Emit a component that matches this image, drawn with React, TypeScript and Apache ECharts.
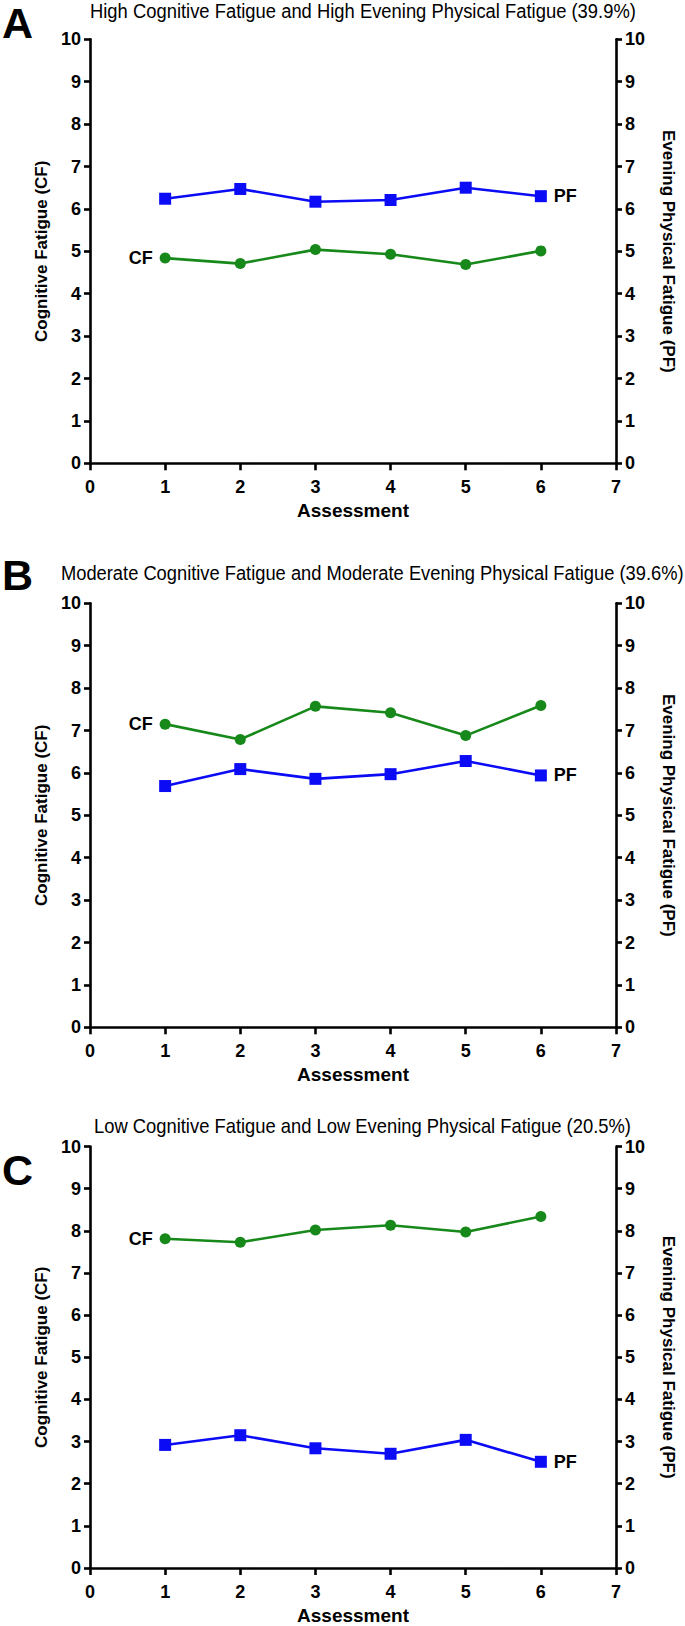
import React, { useEffect, useRef } from "react";
import * as echarts from "echarts";

const assessments = [1, 2, 3, 4, 5, 6];
const panelLetters = ["A", "B", "C"];
const panelTitles = [
  "High Cognitive Fatigue and High Evening Physical Fatigue (39.9%)",
  "Moderate Cognitive Fatigue and Moderate Evening Physical Fatigue (39.6%)",
  "Low Cognitive Fatigue and Low Evening Physical Fatigue (20.5%)",
];
const cfA = [4.84, 4.71, 5.04, 4.93, 4.69, 5.01];
const pfA = [6.24, 6.47, 6.17, 6.21, 6.5, 6.3];
const cfB = [7.15, 6.79, 7.57, 7.42, 6.88, 7.59];
const pfB = [5.69, 6.09, 5.86, 5.97, 6.28, 5.94];
const cfC = [7.81, 7.73, 8.02, 8.13, 7.97, 8.34];
const pfC = [2.92, 3.15, 2.84, 2.71, 3.04, 2.52];
const cfSeries = [cfA, cfB, cfC];
const pfSeries = [pfA, pfB, pfC];

const xAxisName = "Assessment";
const leftAxisName = "Cognitive Fatigue (CF)";
const rightAxisName = "Evening Physical Fatigue (PF)";

const gridTops = [39.3, 603.3, 1146.5];
const titleYs = [11, 573, 1126];
// title spans [left, right] in px
const titleSpans = [
  [90, 636],
  [61, 684],
  [94, 631],
];
const letterTops = [1, 553, 1148];
const GRID_H = 424;
const GRID_L = 90;
const GRID_R = 56;

const SANS = "'Liberation Sans', Arial, sans-serif";
const BLUE = "#0b0bf5";
const GREEN = "#17891a";

export default function App() {
  const ref = useRef<HTMLDivElement>(null);
  useEffect(() => {
    if (!ref.current) return;
    const chart = echarts.init(ref.current, undefined, { renderer: "svg" });
    const axisLineStyle = { color: "#000", width: 2.6 };
    const tickLabel = { color: "#000", fontFamily: SANS, fontWeight: "bold" as const, fontSize: 18 };

    const grids = gridTops.map((t) => ({ left: GRID_L, right: GRID_R, top: t, height: GRID_H }));
    const xAxes = gridTops.map((_, i) => ({
      type: "value" as const,
      gridIndex: i,
      min: 0,
      max: 7,
      interval: 1,
      name: xAxisName,
      nameLocation: "middle" as const,
      nameGap: 38,
      nameTextStyle: { color: "#000", fontFamily: SANS, fontWeight: "bold" as const, fontSize: 19 },
      axisLine: { show: true, onZero: false, lineStyle: axisLineStyle },
      axisTick: { show: true, length: 7, lineStyle: axisLineStyle },
      axisLabel: { ...tickLabel, margin: 15 },
      splitLine: { show: false },
    }));
    const yAxes: any[] = [];
    gridTops.forEach((_, i) => {
      yAxes.push({
        type: "value",
        gridIndex: i,
        position: "left",
        min: 0,
        max: 10,
        interval: 1,
        name: leftAxisName,
        nameLocation: "middle",
        nameRotate: 90,
        nameGap: 35,
        nameTextStyle: { color: "#000", fontFamily: SANS, fontWeight: "bold", fontSize: 17 },
        axisLine: { show: true, onZero: false, lineStyle: axisLineStyle },
        axisTick: { show: true, length: 6, lineStyle: axisLineStyle },
        axisLabel: { ...tickLabel, margin: 9 },
        splitLine: { show: false },
      });
      yAxes.push({
        type: "value",
        gridIndex: i,
        position: "right",
        min: 0,
        max: 10,
        interval: 1,
        name: rightAxisName,
        nameLocation: "middle",
        nameRotate: -90,
        nameGap: 44,
        nameTextStyle: { color: "#000", fontFamily: SANS, fontWeight: "bold", fontSize: 17 },
        axisLine: { show: true, onZero: false, lineStyle: axisLineStyle },
        axisTick: { show: true, length: 6, lineStyle: axisLineStyle },
        axisLabel: { ...tickLabel, margin: 9 },
        splitLine: { show: false },
      });
    });

    const labelStyle = { color: "#000", fontFamily: SANS, fontWeight: "bold" as const, fontSize: 18 };
    const series: any[] = [];
    gridTops.forEach((_, i) => {
      series.push({
        type: "line",
        name: "CF",
        xAxisIndex: i,
        yAxisIndex: 2 * i,
        symbol: "circle",
        symbolSize: 11,
        itemStyle: { color: GREEN },
        lineStyle: { color: GREEN, width: 2.6 },
        data: assessments.map((x, j) => ({
          value: [x, cfSeries[i][j]],
          label: j === 0 ? { show: true, position: "left", distance: 7, formatter: "CF", ...labelStyle } : { show: false },
        })),
      });
      series.push({
        type: "line",
        name: "PF",
        xAxisIndex: i,
        yAxisIndex: 2 * i + 1,
        symbol: "rect",
        symbolSize: 12,
        itemStyle: { color: BLUE },
        lineStyle: { color: BLUE, width: 2.6 },
        data: assessments.map((x, j) => ({
          value: [x, pfSeries[i][j]],
          label: j === assessments.length - 1 ? { show: true, position: "right", distance: 7, formatter: "PF", ...labelStyle } : { show: false },
        })),
      });
    });

    const titleFont = `21px ${SANS}`;
    const ctx = document.createElement("canvas").getContext("2d");
    const graphic: any[] = [];
    panelTitles.forEach((t, i) => {
      const [l, r] = titleSpans[i];
      let w = 0;
      if (ctx) {
        ctx.font = titleFont;
        w = ctx.measureText(t).width;
      }
      const target = r - l;
      const sx = w > 0 ? target / w : 1;
      graphic.push({
        type: "text",
        x: l,
        y: titleYs[i],
        scaleX: sx,
        style: { text: t, fill: "#000", font: titleFont, textAlign: "left", textVerticalAlign: "middle" },
      });
      graphic.push({
        type: "text",
        x: 2,
        y: letterTops[i],
        style: { text: panelLetters[i], fill: "#000", font: `bold 43px ${SANS}`, textAlign: "left", textVerticalAlign: "top" },
      });
    });

    chart.setOption({
      animation: false,
      backgroundColor: "#fff",
      grid: grids,
      xAxis: xAxes,
      yAxis: yAxes,
      series,
      graphic,
    });
    return () => chart.dispose();
  }, []);
  return <div ref={ref} style={{ position: "absolute", left: 0, top: 0, width: 685, height: 1626 }} />;
}
